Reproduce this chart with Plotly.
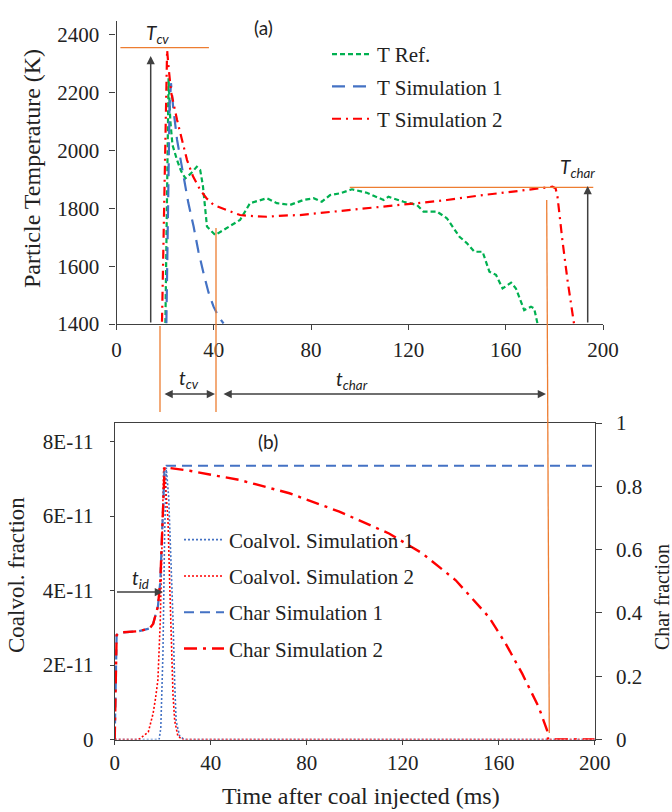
import plotly.graph_objects as go

W, H = 672, 812

# ---------------- data ----------------
# (a) Particle temperature
t_ref = [20.1, 20.8, 21.4, 22.1, 23.0, 24.9, 26.5, 28.3, 30.5, 33.0, 34.4, 35.5, 37.2, 40.6, 44.0, 47.0,
         50.8, 54.9, 58.0, 61.8, 65.9, 71.4, 76.8, 81.0, 84.4, 87.8, 91.9, 96.8, 102.9, 109.8, 111.8,
         118.0, 123.5, 126.2, 131.7, 135.8, 141.0, 144.0, 147.1, 150.5, 153.3, 156.0, 158.7, 162.2,
         164.2, 167.6, 170.4, 171.7, 173.1]
T_ref = [1403, 1900, 2250, 2106, 2020, 1967, 1930, 1904, 1920, 1944, 1933, 1880, 1737, 1708, 1725, 1740,
         1760, 1818, 1825, 1835, 1818, 1812, 1829, 1835, 1823, 1846, 1852, 1866, 1854, 1829, 1840,
         1823, 1812, 1789, 1789, 1766, 1702, 1680, 1650, 1650, 1581, 1570, 1523, 1543,
         1523, 1448, 1460, 1454, 1400]

t_sim1 = [20.5, 21.2, 21.8, 22.4, 23.3, 24.9, 27.6, 29.5, 31.7, 33.7, 35.8, 37.8, 39.9, 42.0, 44.0]
T_sim1 = [1403, 1900, 2150, 2233, 2150, 2037, 1910, 1820, 1737, 1650, 1575, 1510, 1460, 1425, 1402]

t_sim2 = [18.7, 19.5, 20.2, 20.8, 21.5, 22.5, 24.9, 27.0, 29.0, 31.5, 34.4, 37.0, 39.9, 45.4, 50.8,
          54.9, 61.8, 68.6, 75.4, 82.4, 96.0, 109.8, 123.5, 135.8, 150.5, 165.0, 179.2, 180.5,
          181.3, 183.3, 185.4, 188.1]
T_sim2 = [1408, 1800, 2200, 2348, 2280, 2200, 2106, 2030, 1967, 1910, 1864, 1835, 1812, 1794, 1777,
          1774, 1771, 1775, 1777, 1783, 1794, 1806, 1818, 1829, 1846, 1860, 1875, 1870,
          1840, 1690, 1552, 1400]

# (b) Coal volatile fraction (left axis) and char fraction (right axis)
t_cv1 = [0, 18.5, 19.2, 20.1, 20.8, 21.5, 22.5, 23.5, 24.3, 25.0, 25.6, 27.0, 29.0, 200]
cv1 = [0, 0, 0.3e-11, 2.3e-11, 5.5e-11, 7.3e-11, 6.5e-11, 4.8e-11, 3.2e-11, 1.5e-11, 0.5e-11, 0.1e-11, 0, 0]

t_cv2 = [0, 10, 14, 16, 17, 18, 19, 19.8, 20.4, 21.2, 22.2, 23.0, 23.6, 24.3, 25.0, 26.3, 28.0, 200]
cv2 = [0, 0, 0.2e-11, 0.7e-11, 1.1e-11, 1.6e-11, 3.2e-11, 5.9e-11, 7.3e-11, 6.8e-11, 5.9e-11, 4.0e-11,
       2.3e-11, 1.2e-11, 0.5e-11, 0.1e-11, 0, 0]

t_ch1 = [0, 0.3, 0.8, 2, 5, 10, 14.6, 16, 18, 19, 19.8, 20.3, 20.8, 21.5, 30, 200]
ch1 = [0, 0.15, 0.33, 0.338, 0.34, 0.342, 0.351, 0.365, 0.42, 0.5, 0.66, 0.78, 0.86, 0.865, 0.865, 0.865]

t_ch2 = [0, 0.3, 0.8, 2, 5, 10, 14.6, 16, 18, 19, 19.8, 20.3, 20.8, 31.2, 52, 72.8, 93.6, 114.3,
         128.2, 142.1, 155.9, 162.9, 169.8, 176.7, 180.2, 180.6, 200]
ch2 = [0, 0.15, 0.33, 0.338, 0.34, 0.342, 0.351, 0.365, 0.42, 0.5, 0.66, 0.78, 0.86, 0.849, 0.82,
       0.778, 0.72, 0.651, 0.588, 0.503, 0.387, 0.303, 0.208, 0.102, 0.028, 0, 0]

x_ticks = [0, 40, 80, 120, 160, 200]
T_ticks = [1400, 1600, 1800, 2000, 2200, 2400]
cv_ticks = [0, 2e-11, 4e-11, 6e-11, 8e-11]
cv_labels = ["0", "2E-11", "4E-11", "6E-11", "8E-11"]
ch_ticks = [0, 0.2, 0.4, 0.6, 0.8, 1]
ch_labels = ["0", "0.2", "0.4", "0.6", "0.8", "1"]

# key levels used for the annotation markers
T_cv_level = 2356
T_char_level = 1873

# ---------------- helpers ----------------
def px(x):
    return x / W

def py(y):
    return 1 - y / H

SERIF = "'Liberation Serif', 'Times New Roman', 'DejaVu Serif', serif"
SANS = "Lato, 'Open Sans', sans-serif"
TXT = "#222222"
AX = "#404040"
ORANGE = "#ED7D31"
GREEN = "#00B050"
BLUE = "#4472C4"
RED = "#FF0000"

fig = go.Figure()

fig.add_trace(go.Scatter(x=t_ref, y=T_ref, mode="lines", name="T Ref.",
                         line=dict(color=GREEN, width=2.2, dash="5px,3px"),
                         xaxis="x", yaxis="y", legend="legend", legendgroup="r"))
fig.add_trace(go.Scatter(x=t_sim1, y=T_sim1, mode="lines", name="T Simulation 1",
                         line=dict(color=BLUE, width=2.2, dash="13px,8px"),
                         xaxis="x", yaxis="y", legend="legend", legendgroup="s1"))
fig.add_trace(go.Scatter(x=t_sim2, y=T_sim2, mode="lines", name="T Simulation 2",
                         line=dict(color=RED, width=2.2, dash="9px,5px,2px,5px"),
                         xaxis="x", yaxis="y", legend="legend", legendgroup="s2"))

fig.add_trace(go.Scatter(x=t_cv1, y=cv1, mode="lines", name="Coalvol. Simulation 1",
                         line=dict(color=BLUE, width=1.6, dash="2px,2px"),
                         xaxis="x2", yaxis="y2", legend="legend2", legendgroup="a"))
fig.add_trace(go.Scatter(x=t_cv2, y=cv2, mode="lines", name="Coalvol. Simulation 2",
                         line=dict(color=RED, width=1.6, dash="2px,2px"),
                         xaxis="x2", yaxis="y2", legend="legend2", legendgroup="b"))
fig.add_trace(go.Scatter(x=t_ch1, y=ch1, mode="lines", name="Char Simulation 1",
                         line=dict(color=BLUE, width=2.2, dash="10px,6px"),
                         xaxis="x2", yaxis="y3", legend="legend2", legendgroup="c"))
fig.add_trace(go.Scatter(x=t_ch2, y=ch2, mode="lines", name="Char Simulation 2",
                         line=dict(color=RED, width=2.4, dash="13px,6px,3px,6px"),
                         xaxis="x2", yaxis="y3", legend="legend2", legendgroup="d"))

tickfont = dict(family=SERIF, size=21, color=TXT)
common = dict(showline=True, linecolor=AX, linewidth=1.2, ticks="outside", tickcolor=AX,
              showgrid=False, zeroline=False, tickfont=tickfont, automargin=False)

fig.update_layout(
    template="none",
    width=W, height=H,
    margin=dict(l=0, r=0, t=0, b=0, autoexpand=False),
    paper_bgcolor="white", plot_bgcolor="white",
    font=dict(family=SERIF, size=21, color=TXT),
    xaxis=dict(domain=[px(116.5), px(603)], range=[0, 200], tickvals=x_ticks, ticklen=5,
               anchor="y", ticklabelstandoff=2, **common),
    yaxis=dict(domain=[py(324), py(20.5)], range=[1400, 2450], tickvals=T_ticks, ticklen=6,
               anchor="x", ticklabelstandoff=6, **common),
    xaxis2=dict(domain=[px(114.7), px(594.7)], range=[0, 200], tickvals=x_ticks, mirror=True,
                ticklen=4, anchor="y2", ticklabelstandoff=0, **common),
    yaxis2=dict(domain=[py(739.5), py(423)], range=[0, 8.5e-11], tickvals=cv_ticks,
                ticktext=cv_labels, ticklen=4, anchor="x2", ticklabelstandoff=12, **common),
    yaxis3=dict(domain=[py(739.5), py(423)], range=[0, 1], tickvals=ch_ticks,
                ticktext=ch_labels, overlaying="y2", side="right", ticklen=6, anchor="x2",
                ticklabelstandoff=10, **common),
    legend=dict(x=px(327), y=py(34), xanchor="left", yanchor="top",
                bgcolor="rgba(0,0,0,0)", font=dict(family=SERIF, size=21, color=TXT),
                itemwidth=40, tracegroupgap=2),
    legend2=dict(x=px(179), y=py(519.5), xanchor="left", yanchor="top",
                 bgcolor="rgba(0,0,0,0)", font=dict(family=SERIF, size=21, color=TXT),
                 itemwidth=40, tracegroupgap=6),
    showlegend=True,
)

# ---------------- annotation lines (orange markers) ----------------
shapes = [
    dict(type="line", xref="x", yref="y", x0=1.6, x1=38, y0=T_cv_level, y1=T_cv_level,
         line=dict(color=ORANGE, width=1.3)),
    dict(type="line", xref="x", yref="y", x0=95.9, x1=196, y0=T_char_level, y1=T_char_level,
         line=dict(color=ORANGE, width=1.3)),
    dict(type="line", xref="paper", yref="paper", x0=px(160), x1=px(160), y0=py(326), y1=py(412),
         line=dict(color=ORANGE, width=1.3)),
    dict(type="line", xref="paper", yref="paper", x0=px(216), x1=px(216), y0=py(228), y1=py(412),
         line=dict(color=ORANGE, width=1.3)),
    dict(type="line", xref="paper", yref="paper", x0=px(546.7), x1=px(549.3), y0=py(200), y1=py(733),
         line=dict(color=ORANGE, width=1.3)),
]
fig.update_layout(shapes=shapes)

ann = []

def arrow(x_tip, y_tip, x_tail, y_tail, both=False):
    return dict(x=px(x_tip), y=py(y_tip), xref="paper", yref="paper",
                ax=x_tail - x_tip, ay=y_tail - y_tip, axref="pixel", ayref="pixel",
                showarrow=True, arrowhead=2, arrowsize=1.1, arrowwidth=1.5,
                arrowcolor=AX, arrowside="end+start" if both else "end", text="")

ann.append(arrow(150.7, 56, 150.7, 324))
ann.append(arrow(587.7, 186, 587.7, 324))
ann.append(arrow(215, 394, 163, 394, both=True))
ann.append(arrow(546, 394, 222, 394, both=True))
ann.append(arrow(163, 592, 115.5, 592))

def label(x, y, text, size=19, family=SANS, angle=0):
    return dict(x=px(x), y=py(y), xref="paper", yref="paper", text=text, showarrow=False,
                textangle=angle, font=dict(family=family, size=size, color=TXT),
                xanchor="center", yanchor="middle")

ann.append(label(157, 34, "<i>T<sub>cv</sub></i>"))
ann.append(label(577, 168, "<i>T<sub>char</sub></i>"))
ann.append(label(189, 379, "<i>t<sub>cv</sub></i>"))
ann.append(label(352, 380, "<i>t<sub>char</sub></i>"))
ann.append(label(140, 579, "<i>t<sub>id</sub></i>"))
ann.append(label(263, 27, "(a)"))
ann.append(label(268, 442, "(b)"))

ann.append(label(32, 169, "Particle Temperature (K)", size=24, family=SERIF, angle=-90))
ann.append(label(361, 796, "Time after coal injected (ms)", size=24, family=SERIF))
ann.append(label(16, 575, "Coalvol. fraction", size=23, family=SERIF, angle=-90))
ann.append(label(662, 597, "Char fraction", size=20, family=SERIF, angle=-90))

fig.update_layout(annotations=ann)

fig.write_html("out.html")
